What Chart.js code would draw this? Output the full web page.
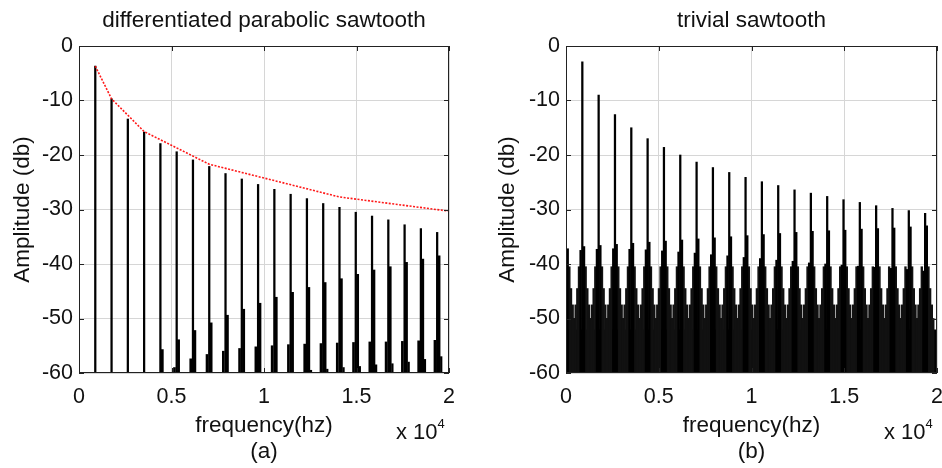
<!DOCTYPE html>
<html>
<head>
<meta charset="utf-8">
<script src="https://cdn.jsdelivr.net/npm/chart.js@4.4.1/dist/chart.umd.min.js"></script>
<style>
  body { margin: 0; background: #fff; width: 942px; height: 468px; overflow: hidden; position: relative; font-family: 'Liberation Sans', Arial, sans-serif; }
  canvas { position: absolute; top: 0; }
  .mult { position: absolute; font-size: 22px; color: #111; line-height: 1; }
  .mult sup { font-size: 13px; position: relative; top: -3px; }
</style>
</head>
<body>
<canvas id="left" width="471" height="468" style="left:0"></canvas>
<canvas id="right" width="471" height="468" style="left:471px"></canvas>
<div class="mult" style="left:396px; top:420px">x 10<sup>4</sup></div>
<div class="mult" style="left:884px; top:420px">x 10<sup>4</sup></div>
<script>
// ── Sawtooth spectra: differentiated parabolic vs trivial ──

const FONT = "'Liberation Sans', Arial, sans-serif";
const INK = '#111';
const GRID = '#d6d6d6';
const FLOOR = -60;

const xTickValues = [0, 5000, 10000, 15000, 20000];
const xTickLabels = ['0', '0.5', '1', '1.5', '2'];

// harmonic positions (Hz)
const harmonicHz = [880, 1760, 2640, 3520, 4400, 5280, 6160, 7040, 7920, 8800, 9680,
  10560, 11440, 12320, 13200, 14080, 14960, 15840, 16720, 17600, 18480, 19360];

// (a) differentiated parabolic sawtooth
const leftHarmonicDb = [-3.7, -9.7, -13.4, -15.8, -17.9, -19.4, -20.9, -22.1, -23.4, -24.4, -25.4,
  -26.3, -27.2, -28.0, -28.9, -29.6, -30.5, -31.2, -31.9, -32.8, -33.5, -34.2];
const leftAliasDb = [null, null, null, null, -55.7, -53.9, -52.2, -50.8, -49.4, -48.3, -47.2,
  -46.1, -45.2, -44.3, -43.4, -42.7, -41.9, -41.1, -40.5, -39.7, -39.1, -38.5];
const leftAliasLowDb = [null, null, null, null, null, -59.0, -57.4, -56.6, -56.0, -55.5, -55.2,
  -55.0, -54.8, -54.7, -54.6, -54.5, -54.4, -54.3, -54.3, -54.2, -54.1, -54.0];
const leftAliasFarDb = [null, null, null, null, null, null, null, null, null, null, null,
  null, null, -59.5, -59.3, -59.0, -58.8, -58.5, -58.3, -58.0, -57.5, -57.0];
const envelopeHz = [880, 1760, 3520, 7040, 14080, 20000];
const envelopeDb = [-3.7, -9.7, -15.7, -21.7, -27.7, -30.3];

// (b) trivial sawtooth
const rightHarmonicDb = [-2.9, -9.0, -12.6, -15.0, -17.0, -18.6, -20.0, -21.3, -22.3, -23.2, -24.1,
  -24.9, -25.6, -26.4, -27.0, -27.6, -28.2, -28.7, -29.3, -29.8, -30.2, -30.7];
const skirtCentersHz = [0].concat(harmonicHz);
const rightNearHighDb = [-37.2, -36.8, -36.6, -36.4, -36.2, -36.0, -35.8, -35.6, -35.4, -35.2, -35.0, -34.8,
  -34.6, -34.4, -34.2, -34.0, -33.9, -33.8, -33.6, -33.5, -33.4, -33.2, -33.0];
const rightNearLowDb = [null, -37.5, -37.3, -37.2, -37.3, -37.4, -37.6, -37.8, -38.0, -38.3, -38.5, -38.8,
  -39.0, -39.3, -39.5, -39.8, -40.0, -40.2, -40.4, -40.6, -40.8, -41.0, -41.3];
const skirtOffsetHz = [-440, -360, -270, -180, 180, 270, 360, 440];
const skirtDb = [-50.0, -47.5, -44.5, -40.5, -40.5, -44.5, -47.5, -50.0];
const floorHz = [0, 20000];
const floorDb = [-52.0, -52.0];

function stems(xs, ys, offset) {
  const out = [];
  xs.forEach((x, i) => {
    if (ys[i] !== null) out.push({ x: x + offset, y: [FLOOR, ys[i]] });
  });
  return out;
}

function skirt() {
  const out = [];
  skirtCentersHz.forEach(c => {
    skirtOffsetHz.forEach((o, j) => out.push({ x: c + o, y: [FLOOR, skirtDb[j]] }));
  });
  return out;
}

function bars(data, color, thick) {
  return { type: 'bar', data, backgroundColor: color, borderWidth: 0, barThickness: thick, grouped: false };
}

// MATLAB style box with inward ticks
const framePlugin = {
  id: 'frame',
  afterDatasetsDraw(chart) {
    const { ctx, chartArea: a, scales: { x, y } } = chart;
    ctx.save();
    ctx.strokeStyle = '#222';
    ctx.lineWidth = 1;
    ctx.strokeRect(a.left + 0.5, a.top + 0.5, a.right - a.left - 1, a.bottom - a.top - 1);
    ctx.beginPath();
    x.ticks.forEach(t => {
      const px = Math.round(x.getPixelForValue(t.value)) + 0.5;
      ctx.moveTo(px, a.bottom); ctx.lineTo(px, a.bottom - 5);
      ctx.moveTo(px, a.top); ctx.lineTo(px, a.top + 5);
    });
    y.ticks.forEach(t => {
      const py = Math.round(y.getPixelForValue(t.value)) + 0.5;
      ctx.moveTo(a.left, py); ctx.lineTo(a.left + 5, py);
      ctx.moveTo(a.right, py); ctx.lineTo(a.right - 5, py);
    });
    ctx.stroke();
    ctx.restore();
  }
};

// title centred over the plot box, not the canvas
const plotTitlePlugin = {
  id: 'plotTitle',
  afterDraw(chart, args, opts) {
    const { ctx, chartArea: a } = chart;
    ctx.save();
    ctx.font = '22.5px ' + FONT;
    ctx.fillStyle = INK;
    ctx.textAlign = 'center';
    ctx.textBaseline = 'alphabetic';
    ctx.fillText(opts.text, (a.left + a.right) / 2, 27);
    ctx.restore();
  }
};

function makeChart(id, title, caption, datasets, yWidth, yTitlePad, rightPad) {
  const tickFont = { size: 21.5, family: FONT };
  const labelFont = { size: 22.5, family: FONT, lineHeight: 1.12 };
  return new Chart(document.getElementById(id), {
    type: 'bar',
    data: { datasets },
    options: {
      responsive: false,
      animation: false,
      layout: { padding: { left: 0, right: rightPad, top: 46, bottom: 0 } },
      plugins: {
        legend: { display: false },
        tooltip: { enabled: false },
        title: { display: false },
        plotTitle: { text: title }
      },
      scales: {
        x: {
          type: 'linear', min: 0, max: 20000, offset: false,
          // fixed height; drop the label overhang so the box reaches the right edge
          afterFit: s => { s.height = 95; s.paddingLeft = 0; s.paddingRight = 0; },
          ticks: {
            stepSize: 5000, autoSkip: false, maxRotation: 0, color: INK, font: tickFont, padding: 11,
            callback: v => { const i = xTickValues.indexOf(v); return i >= 0 ? xTickLabels[i] : ''; }
          },
          grid: { color: GRID, drawTicks: false, offset: false },
          border: { display: false },
          title: { display: true, text: ['frequency(hz)', caption], color: INK, font: labelFont, padding: { top: 0, bottom: 4 } }
        },
        y: {
          min: -60, max: 0,
          afterFit: s => { s.width = yWidth; s.paddingTop = 0; s.paddingBottom = 0; },
          ticks: { stepSize: 10, color: INK, font: tickFont, padding: 6, callback: v => String(v) },
          grid: { color: GRID, drawTicks: false },
          border: { display: false },
          title: { display: true, text: 'Amplitude (db)', color: INK, font: labelFont, padding: { top: yTitlePad, bottom: 0 } }
        }
      }
    },
    plugins: [framePlugin, plotTitlePlugin]
  });
}

makeChart('left', 'differentiated parabolic sawtooth', '(a)', [
  { type: 'line', data: envelopeHz.map((x, i) => ({ x, y: envelopeDb[i] })), borderColor: 'rgba(255,0,0,0.9)',
    borderWidth: 1.6, borderDash: [2, 1.5], pointRadius: 0, fill: false, tension: 0 },
  bars(stems(harmonicHz, leftHarmonicDb, 0), '#000', 1.6),
  bars(stems(harmonicHz, leftAliasDb, 100), '#000', 2.2),
  bars(stems(harmonicHz, leftAliasLowDb, -120), '#000', 2),
  bars(stems(harmonicHz, leftAliasFarDb, 220), '#000', 1.6)
], 79, 10, 22);

makeChart('right', 'trivial sawtooth', '(b)', [
  bars(stems(harmonicHz, rightHarmonicDb, 0), '#000', 1.6),
  bars(stems(skirtCentersHz, rightNearHighDb, 90), '#000', 1.8),
  bars(stems(skirtCentersHz, rightNearLowDb, -90), '#000', 1.8),
  bars(skirt(), '#111', 1.7),
  { type: 'line', data: floorHz.map((x, i) => ({ x, y: floorDb[i] })), borderWidth: 0, pointRadius: 0,
    backgroundColor: '#000', fill: 'start' }
], 95, 24, 5);
</script>
</body>
</html>
